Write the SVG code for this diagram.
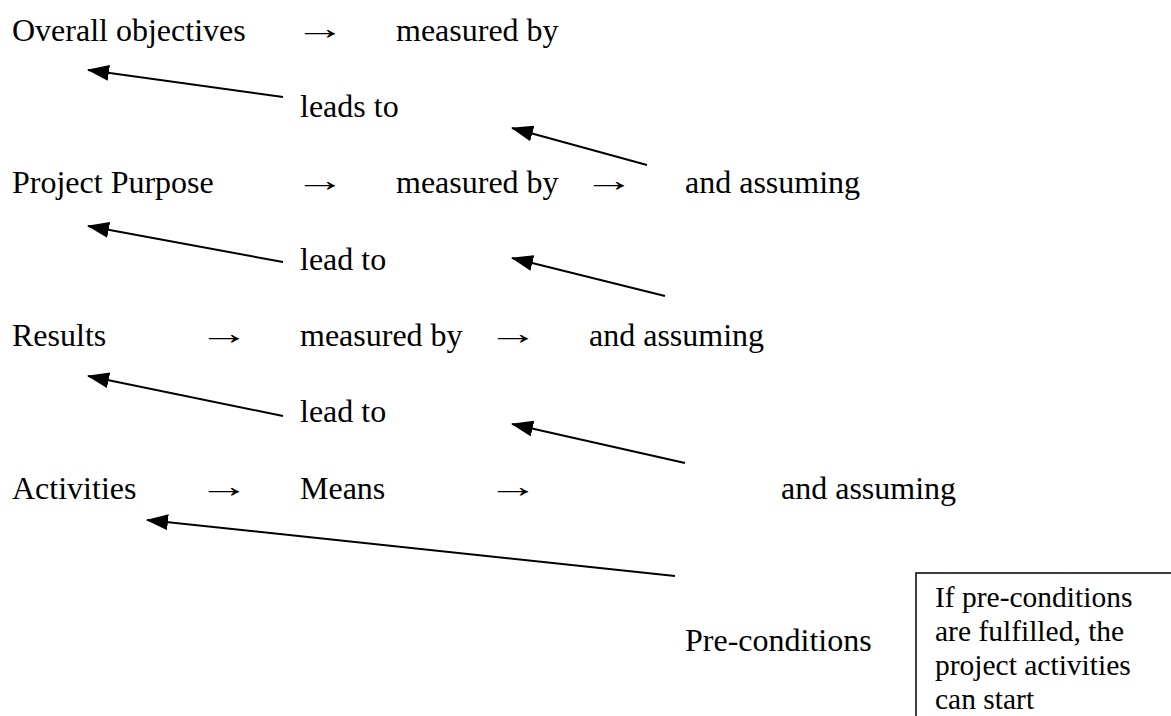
<svg xmlns="http://www.w3.org/2000/svg" width="1171" height="716" viewBox="0 0 1171 716">
<defs>
<marker id="ah" viewBox="0 0 22 16" refX="21" refY="8" markerWidth="22" markerHeight="16" markerUnits="userSpaceOnUse" orient="auto">
<path d="M0,0 L22,8 L0,16 Z" fill="#000"/>
</marker>
<style>
text{font-family:"Liberation Serif","Times New Roman",serif;font-size:32px;fill:#000}
.sm{font-size:29.5px}
.c{stroke:#000;stroke-width:2;fill:none;marker-end:url(#ah)}
.bx{fill:#fff;stroke:#000;stroke-width:1.5}
</style>
</defs>
<rect width="1171" height="716" fill="#fff"/>
<g id="connectors">
<line class="c" x1="283" y1="97" x2="88" y2="70"/>
<line class="c" x1="647" y1="165" x2="512" y2="128"/>
<line class="c" x1="283" y1="262" x2="88" y2="226"/>
<line class="c" x1="665" y1="296" x2="512" y2="258"/>
<line class="c" x1="283" y1="416" x2="88" y2="376"/>
<line class="c" x1="685" y1="463" x2="512" y2="424"/>
<line class="c" x1="675" y1="576" x2="147" y2="520"/>
</g>
<g id="row1">
<text x="12" y="41">Overall objectives</text>
<text transform="translate(294,39) scale(1.6,1)">→</text>
<text x="396" y="41">measured by</text>
</g>
<g id="leads1"><text x="300" y="117">leads to</text></g>
<g id="row2">
<text x="12" y="193">Project Purpose</text>
<text transform="translate(294,191) scale(1.6,1)">→</text>
<text x="396" y="193">measured by</text>
<text transform="translate(583,191) scale(1.6,1)">→</text>
<text x="685" y="193">and assuming</text>
</g>
<g id="leads2"><text x="300" y="270">lead to</text></g>
<g id="row3">
<text x="12" y="346">Results</text>
<text transform="translate(198,344) scale(1.6,1)">→</text>
<text x="300" y="346">measured by</text>
<text transform="translate(487,344) scale(1.6,1)">→</text>
<text x="589" y="346">and assuming</text>
</g>
<g id="leads3"><text x="300" y="422">lead to</text></g>
<g id="row4">
<text x="12" y="499">Activities</text>
<text transform="translate(198,497) scale(1.6,1)">→</text>
<text x="300" y="499">Means</text>
<text transform="translate(487,497) scale(1.6,1)">→</text>
<text x="781" y="499">and assuming</text>
</g>
<g id="preconditions"><text x="685" y="651">Pre-conditions</text></g>
<g id="note">
<rect class="bx" x="916" y="573" width="280" height="160"/>
<text class="sm" x="935" y="607">If pre-conditions</text>
<text class="sm" x="935" y="641">are fulfilled, the</text>
<text class="sm" x="935" y="675">project activities</text>
<text class="sm" x="935" y="709">can start</text>
</g>
</svg>
